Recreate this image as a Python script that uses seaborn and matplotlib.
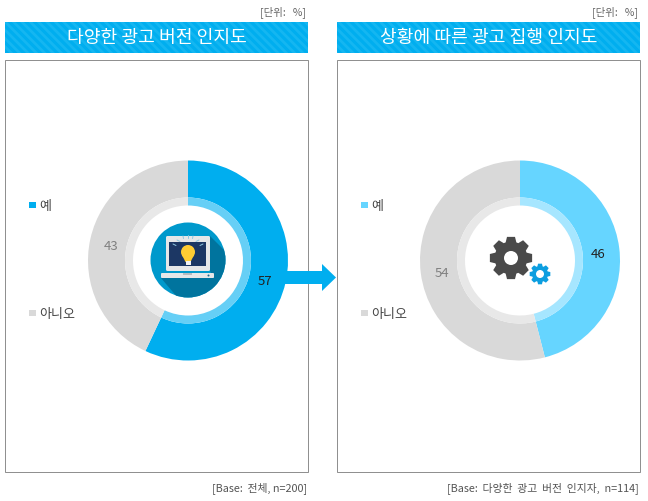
import matplotlib.pyplot as plt
import numpy as np
import seaborn as sns
from matplotlib.patches import Circle, FancyBboxPatch, Polygon, Rectangle

W, H = 648, 502

left_title = "다양한 광고 버전 인지도"
right_title = "상황에 따른 광고 집행 인지도"
answers = ["예", "아니오"]
left_values = [57, 43]
right_values = [46, 54]
left_base = "[Base:  전체, n=200]"
right_base = "[Base:  다양한  광고  버전  인지자,  n=114]"
unit_label = "[단위:   %]"

BLUE = "#00AEEF"
SKY = "#66D5FF"
GRAY = "#D9D9D9"
DARK = "#4A4A4A"

sns.set_theme(style="white")
plt.rcParams["font.family"] = ["Noto Sans CJK KR", "DejaVu Sans"]
plt.rcParams["hatch.linewidth"] = 2.0


def gear_points(cx, cy, r_out, r_in, teeth):
    # trapezoid teeth round a circle, pixel coordinates
    pts = []
    step = 2 * np.pi / teeth
    for i in range(teeth):
        a = i * step
        for da, r in [(-0.30, r_in), (-0.17, r_out), (0.17, r_out), (0.30, r_in)]:
            pts.append((cx + r * np.cos(a + da * step * 1.4), cy + r * np.sin(a + da * step * 1.4)))
    return pts


def draw_donut(fig, cx, cy, values, main_color, ring_color):
    r = 100
    ax = fig.add_axes([(cx - r) / W, 1 - (cy + r) / H, 2 * r / W, 2 * r / H], zorder=1)
    _, _, pct = ax.pie(
        values,
        colors=[main_color, GRAY],
        startangle=90,
        counterclock=False,
        radius=1,
        wedgeprops={"width": 0.37, "linewidth": 0},
        autopct=lambda p: f"{p:.0f}",
        pctdistance=0.785,
        textprops={"fontsize": 9.5},
    )
    pct[0].set_color("#222222")
    pct[1].set_color("#808080")
    for t in pct:
        px, py = t.get_position()
        t.set_position((px, py - 0.025))
    ax.pie(
        values,
        colors=[ring_color, "#E8E8E8"],
        startangle=90,
        counterclock=False,
        radius=0.63,
        wedgeprops={"width": 0.08, "linewidth": 0},
    )
    ax.set_xlim(-1, 1)
    ax.set_ylim(-1, 1)
    ax.axis("off")


def draw_panel(ax, x0, x1, title, base):
    ax.add_patch(Rectangle((x0 - 0.2, 60.5), x1 - x0 + 0.4, 412, fc="white", ec="#909090", lw=0.72))
    ax.add_patch(Rectangle((x0, 23), x1 - x0, 31, fc=BLUE, ec="none"))
    ax.add_patch(Rectangle((x0, 23), x1 - x0, 31, fc="none", ec="#14B6F1", lw=0, hatch="\\\\\\\\"))
    ax.text((x0 + x1) / 2, 38, title, color="white", fontsize=13.1, ha="center", va="center")
    ax.text(x1 - 2, 12, unit_label, color="#666666", fontsize=7.5, ha="right", va="center")
    ax.text(x1 - 1, 488, base, color="#555555", fontsize=7.8, ha="right", va="center")


fig = plt.figure(figsize=(W / 100, H / 100), dpi=100, facecolor="white")

back = fig.add_axes([0, 0, 1, 1], zorder=0)
back.set_xlim(0, W)
back.set_ylim(H, 0)
back.axis("off")

draw_panel(back, 5, 308, left_title, left_base)
draw_panel(back, 337, 640, right_title, right_base)

draw_donut(fig, 188, 261.5, left_values, BLUE, "#66CFF6")
draw_donut(fig, 520, 261.5, right_values, SKY, "#A6E6FF")

front = fig.add_axes([0, 0, 1, 1], zorder=2)
front.patch.set_alpha(0)

# legends
for lx, color in [(32.5, BLUE), (364.5, SKY)]:
    sns.scatterplot(
        x=[lx, lx], y=[206, 314], hue=answers, palette=[color, GRAY],
        marker="s", s=25, linewidth=0, ax=front, legend=False,
    )
    for ly, name in zip([206, 314], answers):
        front.text(lx + 7, ly + 1, name, color="#444444", fontsize=9.4, va="center")

# arrow between the panels
front.add_patch(Polygon(
    [(285, 272), (322, 272), (322, 265), (336, 278.5), (322, 292), (322, 285), (285, 285)],
    fc=BLUE, ec="none",
))

# laptop icon
disc = Circle((188, 261), 37.5, fc="#0099CC", ec="none")
front.add_patch(disc)
shadow = Polygon(
    [(210, 237), (232, 259), (232, 305), (183, 305), (161, 279), (214, 279), (210, 272)],
    fc="#00749E", ec="none",
)
front.add_patch(shadow)
shadow.set_clip_path(disc)
front.add_patch(FancyBboxPatch(
    (166, 237), 44, 35, boxstyle="round,pad=0,rounding_size=1.5", fc="#E6E7E8", ec="none",
))
front.add_patch(Rectangle((169, 243), 37, 24, fc="#1C3764", ec="none"))
front.add_patch(FancyBboxPatch(
    (161, 274), 53, 5, boxstyle="round,pad=0,rounding_size=1", fc="#E6E7E8", ec="none",
))
front.add_patch(Rectangle((183, 274), 9, 2, fc="#B8BCC0", ec="none"))
front.add_patch(Circle((208.5, 276.5), 1, fc="#1C6C90", ec="none"))
front.add_patch(Polygon([(182, 256), (194, 256), (190.5, 263), (185.5, 263)], fc="#FFCC33", ec="none"))
front.add_patch(Circle((188, 253), 7, fc="#FFCC33", ec="none"))
front.add_patch(Rectangle((185.5, 262), 5, 4, fc="#F2F2F2", ec="none"))
for x0, y0, x1, y1 in [(177, 241, 180, 242.5), (183, 237, 183.5, 239.5), (188, 236, 188, 238.5),
                       (193, 237, 192.5, 239.5), (199, 241, 196, 242.5),
                       (173, 245, 176, 246.5), (203, 245, 200, 246.5)]:
    front.plot([x0, x1], [y0, y1], color="#8FC7E0", lw=0.7)

# gear icon
front.add_patch(Polygon(gear_points(511, 259, 21.5, 16.5, 8), fc=DARK, ec="none"))
front.add_patch(Circle((511, 259), 14.5, fc=DARK, ec="none"))
front.add_patch(Circle((511, 259), 7, fc="white", ec="none"))
front.add_patch(Polygon(gear_points(540, 275, 10.5, 8, 8), fc="#0C9EE0", ec="none"))
front.add_patch(Circle((540, 275), 7.5, fc="#0C9EE0", ec="none"))
front.add_patch(Circle((540, 275), 4, fc="white", ec="none"))

front.set_xlim(0, W)
front.set_ylim(H, 0)
front.axis("off")
fig.savefig("out.png", dpi=100)
plt.close(fig)
